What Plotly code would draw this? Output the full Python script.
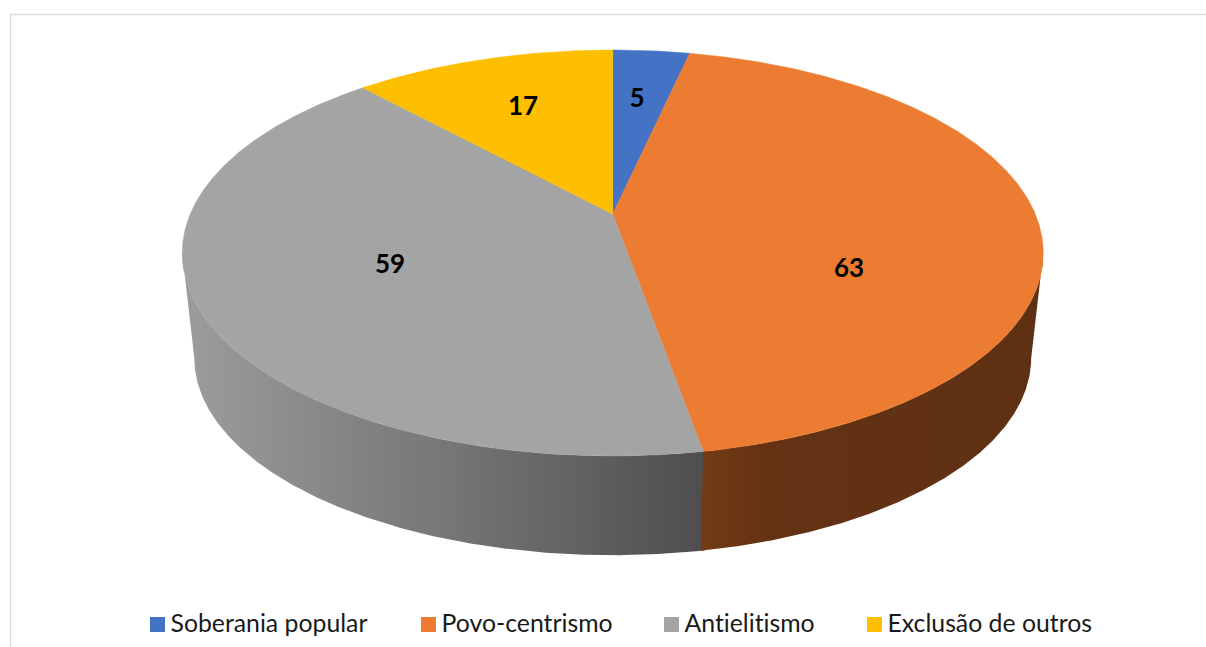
"""3D-style pie: frames of Soberania popular, Povo-centrismo, Antielitismo, Exclusão de outros."""

import numpy as np
import plotly.graph_objects as go

categories = ["Soberania popular", "Povo-centrismo", "Antielitismo", "Exclusão de outros"]
values = [5, 63, 59, 17]
colors = ["#4472c4", "#ec7c31", "#a4a4a4", "#fdbf00"]

# label anchor positions, Excel does not put them on the wedge centroid
label_x = [637, 849, 390, 523]
label_y = [100, 270, 266, 108]

# legend swatch centres, entries are not evenly spaced so plotly's legend can't place them
legend_x = [157.5, 428.5, 671.5, 874.5]
LEGEND_Y = 624.5

# perspective of the disc, in page pixels
CX = 612.75
TOP_Y = 214
BOTTOM_Y = 320
BOTTOM_SCALE = 0.972
A = 422.5
B = 195.5
K = 0.192
SILHOUETTE = np.degrees(np.arcsin(K))


def project(theta, radius=1.0, scale=1.0, y0=TOP_Y):
    t = np.radians(theta)
    u, v = radius * np.sin(t), radius * np.cos(t)
    d = 1 + K * v
    return CX + A * scale * u / d, y0 - B * scale * v / d


def arc(start, end):
    return np.linspace(start, end, max(int(abs(end - start) * 4), 2))


def wedge_top(start, end):
    x, y = project(arc(start, end))
    return np.r_[CX, x, CX], np.r_[TOP_Y, y, TOP_Y]


def wall(start, end):
    th = arc(start, end)
    xt, yt = project(th)
    xb, yb = project(th[::-1], scale=BOTTOM_SCALE, y0=BOTTOM_Y)
    return np.r_[xt, xb, xt[0]], np.r_[yt, yb, yt[0]]


edges = np.cumsum([0] + values) / sum(values) * 360

fig = go.Figure()

# side walls first, the top faces cover whatever is left over
# gray goes under orange with a small overlap so no white seam shows
gray_x, gray_y = wall(edges[2] - 0.5, 270 - SILHOUETTE)
fig.add_trace(go.Scatter(
    x=gray_x, y=gray_y, mode="lines", fill="toself", line=dict(width=0),
    fillgradient=dict(type="horizontal", start=193, stop=703,
                      colorscale=[[0, "#9b9b9b"], [0.5, "#767676"], [1, "#4e4e4e"]]),
    showlegend=False, hoverinfo="skip",
))
orange_x, orange_y = wall(90 + SILHOUETTE, edges[2])
fig.add_trace(go.Scatter(
    x=orange_x, y=orange_y, mode="lines", fill="toself", line=dict(width=0),
    fillgradient=dict(type="horizontal", start=700, stop=1034,
                      colorscale=[[0, "#743b15"], [0.2, "#643213"], [1, "#5f3013"]]),
    showlegend=False, hoverinfo="skip",
))

for i, name in enumerate(categories):
    x, y = wedge_top(edges[i], edges[i + 1])
    fig.add_trace(go.Scatter(
        x=x, y=y, mode="lines", fill="toself", fillcolor=colors[i],
        line=dict(width=0.5, color=colors[i]),
        showlegend=False, name=name, text=str(values[i]), hoverinfo="name+text",
    ))

fig.add_trace(go.Scatter(
    x=label_x, y=label_y, mode="text", text=[str(v) for v in values],
    textfont=dict(family="Lato", size=26, color="#000000", weight="bold"),
    showlegend=False, hoverinfo="skip",
))

# hand placed legend
for name, color, lx in zip(categories, colors, legend_x):
    fig.add_trace(go.Scatter(
        x=[lx], y=[LEGEND_Y], mode="markers",
        marker=dict(symbol="square", size=15, color=color),
        showlegend=False, hoverinfo="skip",
    ))
    fig.add_trace(go.Scatter(
        x=[lx + 13], y=[LEGEND_Y + 1.5], mode="text", text=[name], textposition="middle right",
        textfont=dict(family="Lato", size=24.8, color="#1a1a1a"),
        showlegend=False, hoverinfo="skip",
    ))

# chart frame, right and bottom run off the page
fig.add_shape(type="rect", x0=10.5, y0=14.5, x1=1300, y1=800,
              line=dict(color="#dddddd", width=1.5))

fig.update_layout(
    width=1206,
    height=647,
    margin=dict(l=0, r=0, t=0, b=0),
    paper_bgcolor="#ffffff",
    plot_bgcolor="#ffffff",
    xaxis=dict(range=[0, 1206], visible=False, fixedrange=True),
    yaxis=dict(range=[647, 0], visible=False, fixedrange=True),
    showlegend=False,
)

# Lato joins "ti" into a ligature, the reference font doesn't
post = (
    "document.body.style.margin='0';"
    "var s=document.createElement('style');"
    "s.textContent='svg text{font-variant-ligatures:none !important;"
    "font-feature-settings:\"liga\" 0,\"clig\" 0 !important}';"
    "document.head.appendChild(s);"
)
fig.write_html("out.html", config={"displayModeBar": False}, post_script=post)
